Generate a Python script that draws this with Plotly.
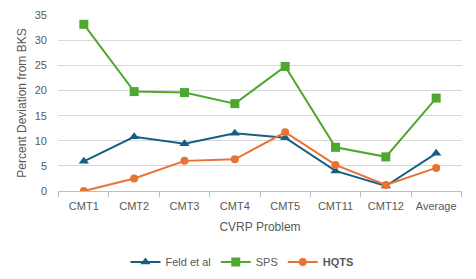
import plotly.graph_objects as go

categories = ["CMT1", "CMT2", "CMT3", "CMT4", "CMT5", "CMT11", "CMT12", "Average"]
feld = [5.9, 10.8, 9.4, 11.5, 10.6, 4.0, 1.0, 7.5]
sps = [33.2, 19.8, 19.6, 17.4, 24.8, 8.7, 6.8, 18.5]
hqts = [0.0, 2.5, 6.0, 6.3, 11.7, 5.2, 1.2, 4.6]
y_ticks = [0, 5, 10, 15, 20, 25, 30, 35]

font = "Liberation Sans, Arial, sans-serif"
text_col = "#595959"

fig = go.Figure()
fig.add_trace(go.Scatter(x=categories, y=feld, name="Feld et al", mode="lines+markers",
                         line=dict(color="#156082", width=2),
                         marker=dict(symbol="triangle-up", size=9, color="#156082")))
fig.add_trace(go.Scatter(x=categories, y=sps, name="SPS", mode="lines+markers",
                         line=dict(color="#4ea72e", width=2),
                         marker=dict(symbol="square", size=9, color="#4ea72e")))
fig.add_trace(go.Scatter(x=categories, y=hqts, name="<b>HQTS</b>", mode="lines+markers",
                         line=dict(color="#e97132", width=2),
                         marker=dict(symbol="circle", size=8, color="#e97132")))

# page has an 8px body margin, so the figure is sized/offset to compensate
fig.update_layout(
    width=468, height=271,
    margin=dict(l=50, r=14, t=7, b=88, autoexpand=False),
    paper_bgcolor="white", plot_bgcolor="white",
    font=dict(family=font, size=11, color=text_col),
    showlegend=True,
    legend=dict(orientation="h", x=0.5, xanchor="center", xref="container",
                y=0.063, yanchor="middle", yref="container",
                font=dict(size=11, color=text_col)),
    xaxis=dict(
        title=dict(text="CVRP Problem", font=dict(size=12, color=text_col), standoff=11),
        showline=True, linecolor="#bfbfbf", linewidth=1, automargin=False,
        ticks="outside", tickson="boundaries", ticklen=5, tickcolor="#bfbfbf",
        showgrid=False, tickangle=0, tickfont=dict(size=11, color=text_col),
        ticklabelstandoff=5,
    ),
    yaxis=dict(
        title=dict(text="Percent Deviation from BKS", font=dict(size=12, color=text_col), standoff=5),
        range=[0, 35.05], tickvals=y_ticks, showgrid=True, gridcolor="#d9d9d9", gridwidth=1,
        zeroline=False, showline=False, automargin=False, tickfont=dict(size=11, color=text_col),
        ticklabelstandoff=10, ticklabeloverflow="allow",
    ),
)

fig.write_html("out.html")
